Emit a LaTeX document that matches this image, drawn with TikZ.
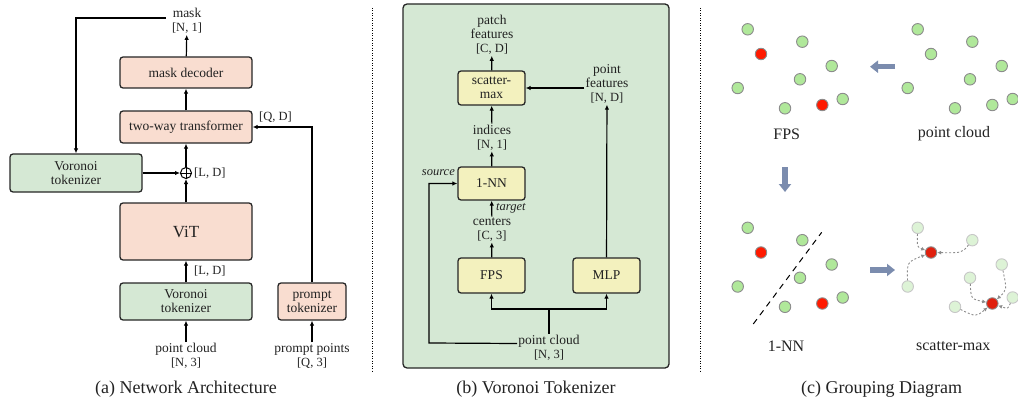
\documentclass[tikz,border=0pt]{standalone}
\usepackage{fontspec}
\setmainfont{Liberation Serif}
\usetikzlibrary{arrows.meta, positioning}
\definecolor{peachc}{HTML}{F9DDD0}
\definecolor{greenc}{HTML}{D5E8D4}
\definecolor{yellowc}{HTML}{F3F1BE}
\definecolor{ptgreen}{HTML}{B0E89A}
\definecolor{ptpale}{HTML}{DDF3D6}
\definecolor{ptred}{HTML}{FF1A00}
\definecolor{ptdred}{HTML}{E0200E}
\definecolor{bluearr}{HTML}{7B8CAE}
\definecolor{txtc}{HTML}{222222}
\newcommand{\boxfont}{\fontsize{13.5}{14}\selectfont}
\newcommand{\dimfont}{\fontsize{12.5}{13}\selectfont}
\newcommand{\grpfont}{\fontsize{16}{17}\selectfont}
\newcommand{\capfont}{\fontsize{18}{19}\selectfont}

\begin{document}
\begin{tikzpicture}[x=1pt, y=-1pt,
    box/.style={draw=black!85, line width=1.3pt, rounded corners=3pt, align=center,
        inner sep=0pt, text=txtc, font=\boxfont},
    peach/.style={box, fill=peachc},
    greenb/.style={box, fill=greenc},
    yellowb/.style={box, fill=yellowc, minimum width=67pt},
    lbl/.style={align=center, inner sep=1pt, text=txtc, font=\boxfont},
    dim/.style={inner sep=1pt, text=txtc, font=\dimfont},
    arr/.style={-{Latex[length=5pt, width=4.5pt]}, line width=1.2pt},
    sep/.style={line width=1pt, dash pattern=on 1pt off 1.5pt},
    grp/.style={text=txtc, font=\grpfont},
    captxt/.style={text=txtc, font=\capfont},
    pt/.style={circle, line width=0.9pt, minimum size=11.5pt, inner sep=0pt},
    bigarr/.style={-{Triangle[length=8pt, width=12pt]}, line width=5.5pt, draw=bluearr},
    gather/.style={-{Latex[length=4pt, width=4pt]}, draw=black!45, line width=0.9pt,
        dash pattern=on 2pt off 2pt}]
    \useasboundingbox (0,0) rectangle (1018,404);

    % (a) Network Architecture
    \node [peach, minimum width=132pt, minimum height=31pt] (dec) at (186,72.5) {mask decoder};
    \node [peach, minimum width=132pt, minimum height=32pt] (twt) at (186,127) {two-way transformer};
    \node [greenb, minimum width=132pt, minimum height=38pt] (vtl) at (76,173) {Voronoi\\tokenizer};
    \node [circle, draw, line width=1pt, minimum size=11pt, inner sep=0pt] (plus) at (186,173) {};
    \draw [line width=0.8pt] (plus.north) -- (plus.south) (plus.west) -- (plus.east);
    \node [peach, minimum width=132pt, minimum height=57pt, font=\fontsize{17}{18}\selectfont] (vit) at (186,231.5) {ViT};
    \node [greenb, minimum width=132pt, minimum height=37pt] (vtb) at (186,301.5) {Voronoi\\tokenizer};
    \node [peach, minimum width=68pt, minimum height=37pt] (ptok) at (312,301.5) {prompt\\tokenizer};
    \node [lbl] (mask) at (187,21) {mask\\{\dimfont[N, 1]}};
    \node [lbl] (pca) at (186,356) {point cloud\\{\dimfont[N, 3]}};
    \node [lbl] (pp) at (312,356) {prompt points\\{\dimfont[Q, 3]}};
    \node [dim, anchor=west] (qd) at (258,117) {[Q, D]};
    \node [dim, anchor=west] (ldp) at (193,173) {[L, D]};
    \node [dim, anchor=west] (ldv) at (193,271) {[L, D]};
    \draw [arr] (dec) -- (mask);
    \draw [arr] (twt) -- (dec);
    \draw [arr] (plus) -- (twt);
    \draw [arr] (vit) -- (plus);
    \draw [arr] (vtb) -- (vit);
    \draw [arr] (pca) -- (vtb);
    \draw [arr] (pp) -- (ptok);
    \draw [arr] (ptok.north) |- (twt.east);
    \draw [arr] (vtl) -- (plus);
    \draw [arr] ([xshift=-5pt, yshift=3pt]mask.west) -| (vtl.north);
    \node [captxt] (capa) at (186,389) {(a) Network Architecture};

    % Separators
    \draw [sep] (372,8) -- (372,373);
    \draw [sep] (700,8) -- (700,373);

    % (b) Voronoi Tokenizer
    \draw [draw=black!85, line width=1.3pt, rounded corners=4pt, fill=greenc] (403,4) rectangle (669,368);
    \node [yellowb, minimum height=34pt] (sm) at (491.5,88) {scatter-\\max};
    \node [yellowb, minimum height=33pt] (nn) at (491.5,183.5) {1-NN};
    \node [yellowb, minimum height=35pt] (fps) at (491.5,275.5) {FPS};
    \node [yellowb, minimum height=35pt] (mlp) at (606.5,275.5) {MLP};
    \node [lbl] (patch) at (492,35) {patch\\features\\{\dimfont[C, D]}};
    \node [lbl] (pf) at (607,84) {point\\features\\{\dimfont[N, D]}};
    \node [lbl] (idx) at (492,137.5) {indices\\{\dimfont[N, 1]}};
    \node [lbl] (ctr) at (492,229.5) {centers\\{\dimfont[C, 3]}};
    \node [lbl] (pcb) at (549,347.5) {point cloud\\{\dimfont[N, 3]}};
    \node [dim, anchor=east, font=\dimfont\itshape] (src) at (456,173) {source};
    \node [dim, anchor=west, font=\dimfont\itshape] (tgt) at (495,208) {target};
    \coordinate (split) at (549,309);
    \coordinate (srcturn) at (429,343);
    \draw [arr] (sm) -- (patch);
    \draw [arr] (idx) -- (sm);
    \draw [arr] (nn) -- (idx);
    \draw [arr] (ctr) -- (nn);
    \draw [arr] (fps) -- (ctr);
    \draw [arr] (mlp) -- (pf);
    \draw [arr] (pf.west |- sm.east) -- (sm.east);
    \draw [line width=1.2pt] (pcb.north) -- (split);
    \draw [arr] (split) -| (fps.south);
    \draw [arr] (split) -| (mlp.south);
    \draw [arr] ([yshift=4pt]pcb.west) -- (srcturn) |- (nn.west);
    \node [captxt] (capb) at (536,389) {(b) Voronoi Tokenizer};

    % (c) Grouping Diagram
    \foreach \name/\dx/\dy/\fillc/\redc/\edge in {fp/0/0/ptgreen/ptred/45, pc/170/0/ptgreen/ptgreen/45,
            nb/0/198.5/ptgreen/ptred/45, sx/170/198.5/ptpale/ptdred/22} {
        \foreach \i/\x/\y in {1/747.7/29.3, 2/802.3/41.7, 3/761/54, 4/831.7/66, 5/800/79.3,
                6/737.7/88, 7/785/108.3, 8/822.3/105, 9/842.7/99} {
            \ifnum\i=3 \def\c{\redc}\def\e{45}\else\ifnum\i=8 \def\c{\redc}\def\e{45}\else\def\c{\fillc}\def\e{\edge}\fi\fi
            \node [pt, fill=\c, draw=black!\e] (\name-\i) at (\x+\dx,\y+\dy) {};
        }
    }
    \node [grp] (lfps) at (786.7,134) {FPS};
    \node [grp] (lpc) at (954,134) {point cloud};
    \node [grp] (lnn) at (786,346) {1-NN};
    \node [grp] (lsx) at (953.3,346) {scatter-max};
    \coordinate (a1s) at (895,66.7);
    \coordinate (a1e) at (870,66.7);
    \coordinate (a2s) at (785,167);
    \coordinate (a2e) at (785,192);
    \coordinate (a3s) at (870,270);
    \coordinate (a3e) at (895,270);
    \draw [bigarr] (a1s) -- (a1e);
    \draw [bigarr] (a2s) -- (a2e);
    \draw [bigarr] (a3s) -- (a3e);
    % Partition
    \draw [line width=1pt, dash pattern=on 6pt off 5pt] (753.3,324) -- (821.7,232.3);
    % Gather
    \draw [gather] (sx-1) .. controls (917,247) .. (sx-3);
    \draw [gather] (sx-2) .. controls (962,253) .. (sx-3);
    \draw [gather] (sx-6) .. controls (907,262) .. (sx-3);
    \draw [gather] (sx-4) .. controls (1007,290) .. (sx-8);
    \draw [gather] (sx-5) .. controls (971,299) .. (sx-8);
    \draw [gather] (sx-9) .. controls (1008,309) .. (sx-8);
    \draw [gather] (sx-7) .. controls (976,317) .. (sx-8);
    \node [captxt] (capc) at (881.7,389) {(c) Grouping Diagram};
\end{tikzpicture}
\end{document}
